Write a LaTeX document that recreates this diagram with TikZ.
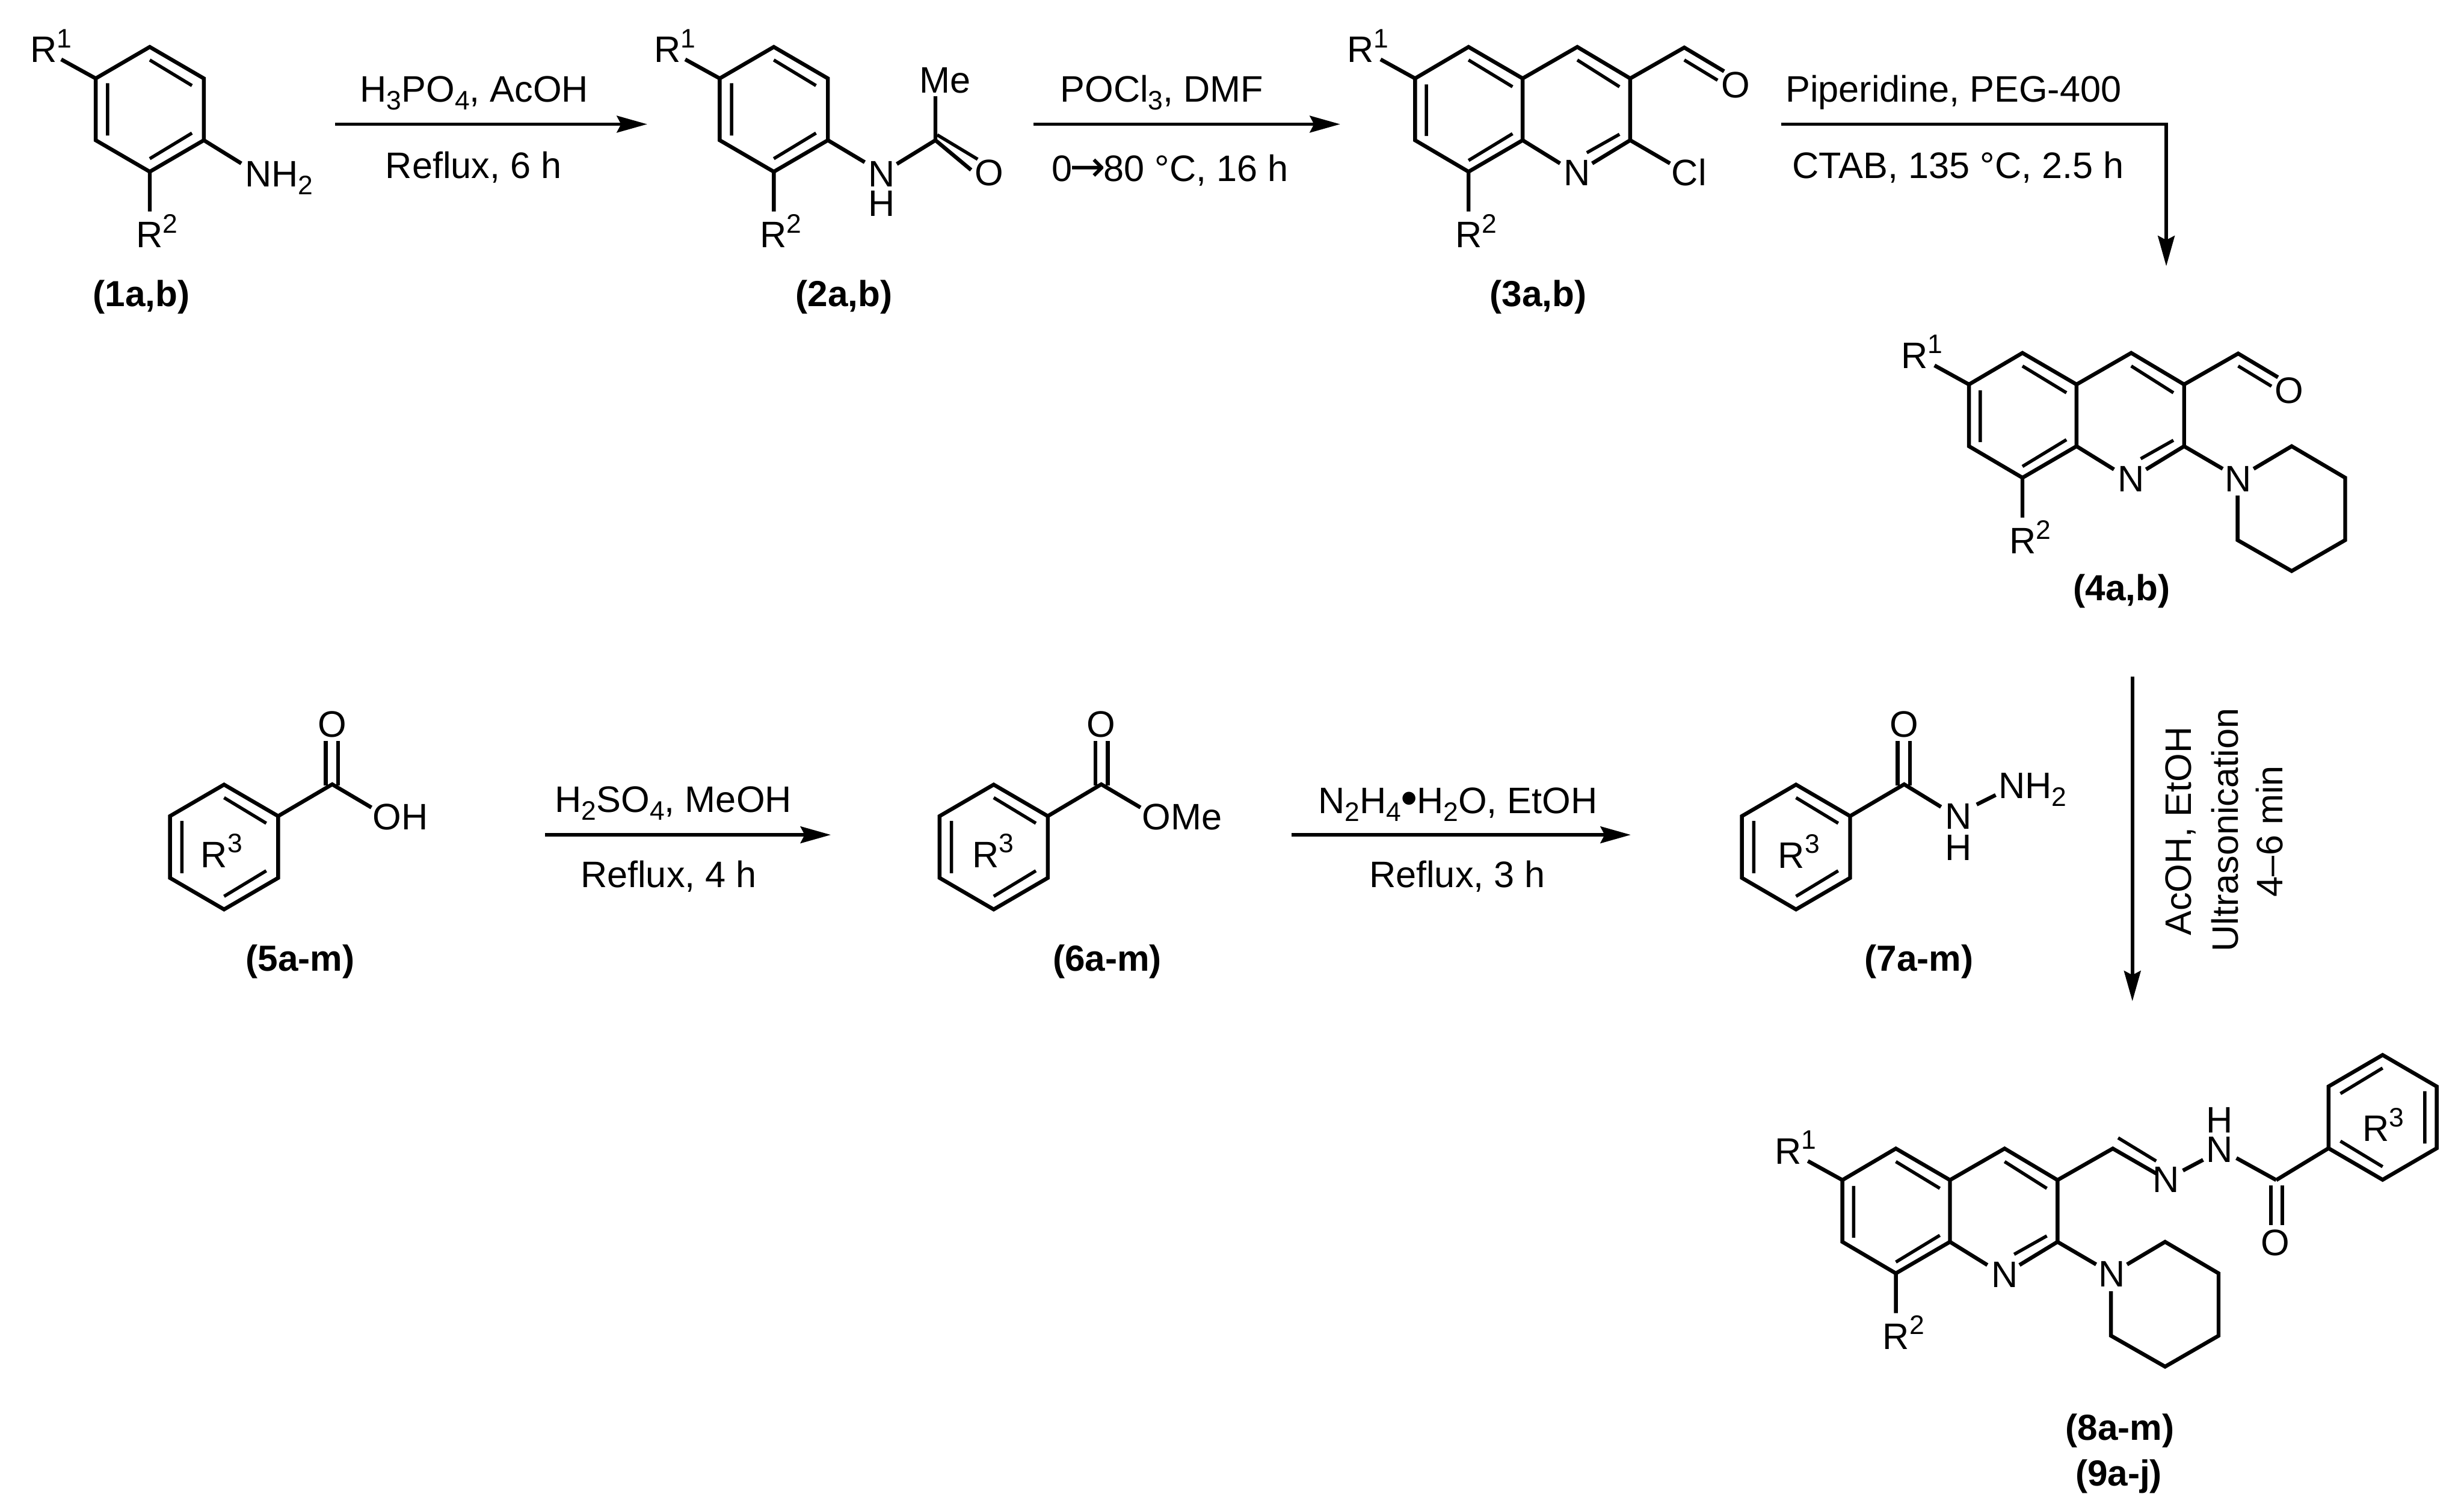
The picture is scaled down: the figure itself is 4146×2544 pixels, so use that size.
\documentclass[tikz,border=0pt]{standalone}
\usepackage{fontspec}
\setmainfont{Liberation Sans}
\newfontfamily\arrowfont{DejaVu Sans}
\usetikzlibrary{arrows.meta}
\newcommand{\upd}[1]{\raisebox{25pt}{\fontsize{45}{48}\selectfont #1}}
\newcommand{\dnd}[1]{\raisebox{-13pt}{\fontsize{45}{48}\selectfont #1}}
\tikzset{
  x=1pt,y=-1pt,
  every node/.style={inner sep=0pt,outer sep=0pt,font=\fontsize{62}{66}\selectfont},
  atom/.style={anchor=base},
  leftatom/.style={anchor=base west},
  cpd/.style={anchor=base,font=\fontsize{61}{66}\selectfont\bfseries},
  reagent/.style={anchor=base},
  bond/.style={line width=6.5pt},
  inner/.style={line width=5.5pt},
  rxn/.style={line width=6pt,-{Stealth[length=51pt,width=28pt,inset=7pt]}},
  % six-membered aromatic ring, origin at its centre
  benz/.pic={
    \coordinate (-t) at (0,-105); \coordinate (-ur) at (91,-52);
    \coordinate (-lr) at (91,52); \coordinate (-b) at (0,105);
    \coordinate (-ll) at (-91,52); \coordinate (-ul) at (-91,-52);
    \coordinate (-i1) at (-71,-44); \coordinate (-i2) at (-71,44);
    \coordinate (-i3) at (0,-83); \coordinate (-i4) at (71,-40);
    \coordinate (-i5) at (71,40); \coordinate (-i6) at (0,83);
    \draw[bond] (-t) -- (-ur) -- (-lr) -- (-b) -- (-ll) -- (-ul) -- cycle;
    \draw[inner] (-i1) -- (-i2) (-i3) -- (-i4) (-i5) -- (-i6);
  },
  % ring bearing R1 and R2, origin at its centre
  anil/.pic={
    \coordinate (-t) at (0,-105); \coordinate (-ur) at (91,-52);
    \coordinate (-lr) at (91,52); \coordinate (-b) at (0,105);
    \coordinate (-ll) at (-91,52); \coordinate (-ul) at (-91,-52);
    \coordinate (-i1) at (-71,-44); \coordinate (-i2) at (-71,44);
    \coordinate (-i3) at (0,-83); \coordinate (-i4) at (71,-40);
    \coordinate (-i5) at (71,40); \coordinate (-i6) at (0,83);
    \coordinate (-e1) at (-149,-84); \coordinate (-e2) at (0,172);
    \draw[bond] (-t) -- (-ur) -- (-lr) -- (-b) -- (-ll) -- (-ul) -- cycle;
    \draw[inner] (-i1) -- (-i2) (-i3) -- (-i4) (-i5) -- (-i6);
    \draw[bond] (-ul) -- (-e1) (-b) -- (-e2);
    \node[leftatom] (-R1) at (-201,-79) {R\upd{1}};
    \node[leftatom] (-R2) at (-23,233) {R\upd{2}};
  },
  % quinoline core, origin at the carbon bearing R1
  core/.pic={
    \coordinate (-lu) at (0,0); \coordinate (-ll) at (0,104);
    \coordinate (-b) at (90,157); \coordinate (-fl) at (181,104);
    \coordinate (-fu) at (181,0); \coordinate (-t1) at (90,-53);
    \coordinate (-t2) at (273,-53); \coordinate (-ru) at (362,0);
    \coordinate (-rl) at (362,104);
    \coordinate (-n1) at (298,143); \coordinate (-n2) at (244,143);
    \coordinate (-e1) at (-58,-32); \coordinate (-e2) at (90,224);
    \coordinate (-j1) at (19,10); \coordinate (-j2) at (19,97);
    \coordinate (-j3) at (90,-31); \coordinate (-j4) at (164,14);
    \coordinate (-j5) at (164,93); \coordinate (-j6) at (90,138);
    \coordinate (-j7) at (273,-31); \coordinate (-j8) at (344,14);
    \coordinate (-j9) at (344,94); \coordinate (-j10) at (289,125);
    \draw[bond] (-t1) -- (-fu) -- (-fl) -- (-b) -- (-ll) -- (-lu) -- cycle;
    \draw[bond] (-n2) -- (-fl);
    \draw[bond] (-fu) -- (-t2) -- (-ru) -- (-rl) -- (-n1);
    \draw[inner] (-j1) -- (-j2) (-j3) -- (-j4) (-j5) -- (-j6) (-j7) -- (-j8) (-j9) -- (-j10);
    \draw[bond] (-lu) -- (-e1) (-b) -- (-e2);
    \node[atom] (-N) at (273,180.5) {N};
    \node[leftatom] (-R1) at (-114,-27) {R\upd{1}};
    \node[leftatom] (-R2) at (68,285) {R\upd{2}};
  },
  % aldehyde on the quinoline core, origin at ring carbon
  cho/.pic={
    \coordinate (-r) at (0,0); \coordinate (-c) at (91,-52);
    \coordinate (-o1) at (158,-12); \coordinate (-i1) at (91,-31);
    \coordinate (-i2) at (147,3);
    \draw[bond] (-r) -- (-c) -- (-o1);
    \draw[inner] (-i1) -- (-i2);
    \node[atom] (-O) at (177,32) {O};
  },
  % piperidine, origin at ring carbon of the quinoline
  pip/.pic={
    \coordinate (-r) at (0,0); \coordinate (-n1) at (65,38);
    \coordinate (-n2) at (117,38); \coordinate (-a) at (181,0);
    \coordinate (-b) at (271,53); \coordinate (-c) at (271,158);
    \coordinate (-d) at (181,210); \coordinate (-e) at (90,158);
    \coordinate (-n3) at (90,83);
    \draw[bond] (-r) -- (-n1);
    \draw[bond] (-n2) -- (-a) -- (-b) -- (-c) -- (-d) -- (-e) -- (-n3);
    \node[atom] (-N) at (91,76) {N};
  },
}
\begin{document}
\begin{tikzpicture}
\useasboundingbox (0,0) rectangle (4146,2544);

% compound 1
\pic (m1) at (252,184) {anil};
\coordinate (m1e) at (406,275);
\draw[bond] (m1-lr) -- (m1e);
\node[leftatom] (m1nh) at (412,314) {NH\dnd{2}};
\node[cpd] (l1) at (238,516) {(1a,b)};

% arrow 1
\coordinate (a1s) at (564,209); \coordinate (a1e) at (1089,209);
\draw[rxn] (a1s) -- (a1e);
\node[reagent] (a1t) at (798,172) {H\dnd{3}PO\dnd{4}, AcOH};
\node[reagent] (a1b) at (797,300) {Reflux, 6 h};

% compound 2
\pic (m2) at (1302,184) {anil};
\coordinate (m2a) at (1455,273); \coordinate (m2b) at (1509,276);
\coordinate (m2c) at (1574,236); \coordinate (m2d) at (1574,162);
\coordinate (m2e) at (1634,286); \coordinate (m2f) at (1577,227);
\coordinate (m2g) at (1645,268);
\draw[bond] (m2-lr) -- (m2a);
\draw[bond] (m2b) -- (m2c) -- (m2e) (m2c) -- (m2d);
\draw[inner] (m2f) -- (m2g);
\node[atom] (m2n) at (1483,314) {N};
\node[atom] (m2h) at (1483,364) {H};
\node[atom] (m2o) at (1664,312) {O};
\node[atom] (m2me) at (1590,156) {Me};
\node[cpd] (l2) at (1420,516) {(2a,b)};

% arrow 2
\coordinate (a2s) at (1739,209); \coordinate (a2e) at (2255,209);
\draw[rxn] (a2s) -- (a2e);
\node[reagent] (a2t) at (1955,172) {POCl\dnd{3}, DMF};
\node[reagent] (a2b) at (1969,305) {0{\fontsize{72}{72}\arrowfont\kern-4pt→\kern-4pt}80 °C, 16 h};

% compound 3
\pic (m3) at (2381,132) {core};
\pic (m3a) at (2743,132) {cho};
\coordinate (m3e) at (2810,275);
\draw[bond] (m3-rl) -- (m3e);
\node[atom] (m3cl) at (2842,312) {Cl};
\node[cpd] (l3) at (2588,516) {(3a,b)};

% arrow 3
\coordinate (a3s) at (2997,209); \coordinate (a3c) at (3645,209); \coordinate (a3e) at (3645,448);
\draw[rxn] (a3s) -- (a3c) -- (a3e);
\node[reagent] (a3t) at (3287,172) {Piperidine, PEG-400};
\node[reagent] (a3b) at (3295,300) {CTAB, 135 °C, 2.5 h};

% compound 4
\pic (m4) at (3313,647) {core};
\pic (m4a) at (3675,647) {cho};
\pic (m4p) at (3675,751) {pip};
\node[cpd] (l4) at (3570,1011) {(4a,b)};

% compound 5
\pic (m5) at (377,1425.5) {benz};
\coordinate (m5c) at (559,1320); \coordinate (m5e) at (625,1359);
\coordinate (m5p) at (548,1322); \coordinate (m5q) at (548,1247);
\coordinate (m5r) at (569,1322); \coordinate (m5s) at (569,1247);
\draw[bond] (m5-ur) -- (m5c) -- (m5e);
\draw[bond] (m5p) -- (m5q) (m5r) -- (m5s);
\node[atom] (m5o) at (559,1240.5) {O};
\node[leftatom] (m5oh) at (627,1396.5) {OH};
\node[leftatom] (m5r3) at (338,1460) {R\upd{3}};
\node[cpd] (l5) at (505,1634) {(5a-m)};

% arrow 5
\coordinate (a5s) at (917,1405); \coordinate (a5e) at (1398,1405);
\draw[rxn] (a5s) -- (a5e);
\node[reagent] (a5t) at (1133,1367) {H\dnd{2}SO\dnd{4}, MeOH};
\node[reagent] (a5b) at (1125,1493) {Reflux, 4 h};

% compound 6
\pic (m6) at (1672,1425.5) {benz};
\coordinate (m6c) at (1853,1320); \coordinate (m6e) at (1919,1359);
\coordinate (m6p) at (1843,1322); \coordinate (m6q) at (1843,1247);
\coordinate (m6r) at (1864,1322); \coordinate (m6s) at (1864,1247);
\draw[bond] (m6-ur) -- (m6c) -- (m6e);
\draw[bond] (m6p) -- (m6q) (m6r) -- (m6s);
\node[atom] (m6o) at (1853,1240.5) {O};
\node[leftatom] (m6ome) at (1922,1396.5) {OMe};
\node[leftatom] (m6r3) at (1636,1460) {R\upd{3}};
\node[cpd] (l6) at (1863,1634) {(6a-m)};

% arrow 6
\coordinate (a6s) at (2173,1405); \coordinate (a6e) at (2744,1405);
\draw[rxn] (a6s) -- (a6e);
\node[reagent] (a6t) at (2453,1369) {N\dnd{2}H\dnd{4}{\fontsize{76}{76}\bfseries •}H\dnd{2}O, EtOH};
\node[reagent] (a6b) at (2452,1493) {Reflux, 3 h};

% compound 7
\pic (m7) at (3022,1425.5) {benz};
\coordinate (m7c) at (3204,1320); \coordinate (m7e) at (3266,1358);
\coordinate (m7p) at (3193,1322); \coordinate (m7q) at (3193,1247);
\coordinate (m7r) at (3214,1322); \coordinate (m7s) at (3214,1247);
\coordinate (m7u) at (3326,1354); \coordinate (m7v) at (3358,1338);
\draw[bond] (m7-ur) -- (m7c) -- (m7e);
\draw[bond] (m7p) -- (m7q) (m7r) -- (m7s);
\draw[bond] (m7u) -- (m7v);
\node[atom] (m7o) at (3204,1240) {O};
\node[atom] (m7n) at (3295,1395) {N};
\node[atom] (m7h) at (3295,1448) {H};
\node[leftatom] (m7nh) at (3363,1344) {NH\dnd{2}};
\node[leftatom] (m7r3) at (2992,1461) {R\upd{3}};
\node[cpd] (l7) at (3229,1634) {(7a-m)};

% arrow 7
\coordinate (a7s) at (3588,1139); \coordinate (a7e) at (3588,1685);
\draw[rxn] (a7s) -- (a7e);
\node[reagent,rotate=90] (a7a) at (3687,1399) {AcOH, EtOH};
\node[reagent,rotate=90] (a7b) at (3766,1397) {Ultrasonication};
\node[reagent,rotate=90] (a7c) at (3841,1399) {4–6 min};

% compound 8
\pic (m8) at (3100,1986) {core};
\pic (m8p) at (3462,2090) {pip};
\coordinate (m8i) at (3555,1933); \coordinate (m8j) at (3628,1975);
\coordinate (m8k) at (3564,1915); \coordinate (m8l) at (3628,1954);
\coordinate (m8m) at (3673,1970); \coordinate (m8n) at (3707,1952);
\coordinate (m8q) at (3763,1949); \coordinate (m8c) at (3830,1986);
\coordinate (m8s) at (3821,1995); \coordinate (m8t) at (3821,2062);
\coordinate (m8u) at (3840,1995); \coordinate (m8v) at (3840,2062);
\draw[bond] (m8-ru) -- (m8i) -- (m8j);
\draw[inner] (m8k) -- (m8l);
\draw[bond] (m8m) -- (m8n);
\draw[bond] (m8q) -- (m8c);
\draw[bond] (m8s) -- (m8t) (m8u) -- (m8v);
\pic[xscale=-1] (m8r) at (4009,1880.5) {benz};
\draw[bond] (m8c) -- (m8r-lr);
\node[atom] (m8na) at (3645,2007) {N};
\node[atom] (m8nb) at (3735,1956) {N};
\node[atom] (m8h) at (3735,1906) {H};
\node[atom] (m8o) at (3828,2113) {O};
\node[leftatom] (m8r3) at (3975,1921) {R\upd{3}};
\node[cpd] (l8) at (3567,2424) {(8a-m)};
\node[cpd] (l9) at (3565,2501) {(9a-j)};
\end{tikzpicture}
\end{document}
